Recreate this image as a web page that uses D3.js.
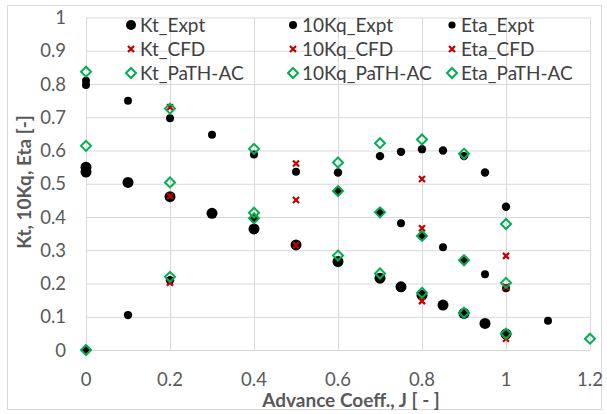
<!DOCTYPE html>
<html>
	<head>
		<meta charset="utf8" />
		<script src="https://cdn.jsdelivr.net/npm/d3@7/dist/d3.min.js"></script>
		<style>
			body { margin: 0; background: #fff; }
			text { font-family: Lato, "Open Sans", sans-serif; }
		</style>
	</head>
	<body>
		<script>
			var w = 607;
			var h = 414;

			// advance coefficient J for each data set
			var jExpt = [0, 0, 0.1, 0.2, 0.3, 0.4, 0.5, 0.6, 0.7, 0.75, 0.8, 0.85, 0.9, 0.95, 1.0];
			var ktExpt = [0.55, 0.535, 0.504, 0.461, 0.411, 0.364, 0.316, 0.266, 0.216, 0.19, 0.165, 0.135, 0.11, 0.08, 0.048];
			var jKqExpt = [0, 0, 0.1, 0.2, 0.3, 0.4, 0.5, 0.6, 0.7, 0.75, 0.8, 0.85, 0.9, 0.95, 1.0, 1.1];
			var kqExpt = [0.81, 0.797, 0.75, 0.697, 0.647, 0.588, 0.536, 0.478, 0.414, 0.381, 0.343, 0.309, 0.271, 0.228, 0.186, 0.088];
			var jEtaExpt = [0, 0.1, 0.2, 0.4, 0.6, 0.7, 0.75, 0.8, 0.85, 0.9, 0.95, 1.0];
			var etaExpt = [0, 0.105, 0.21, 0.396, 0.534, 0.583, 0.596, 0.604, 0.6, 0.583, 0.534, 0.431];

			var jCfd = [0.2, 0.5, 0.8, 1.0];
			var ktCfd = [0.463, 0.316, 0.147, 0.034];
			var kqCfd = [0.73, 0.561, 0.366, 0.19];
			var etaCfd = [0.202, 0.451, 0.514, 0.283];

			var jPath = [0, 0.2, 0.4, 0.6, 0.7, 0.8, 0.9, 1.0];
			var ktPath = [0.614, 0.504, 0.396, 0.284, 0.23, 0.172, 0.112, 0.049];
			var jKqPath = [0, 0.2, 0.4, 0.6, 0.7, 0.8, 0.9, 1.0, 1.2];
			var kqPath = [0.837, 0.726, 0.605, 0.478, 0.414, 0.343, 0.27, 0.202, 0.034];
			var etaPath = [0, 0.22, 0.413, 0.564, 0.622, 0.633, 0.59, 0.379];

			var xTicks = [0, 0.2, 0.4, 0.6, 0.8, 1, 1.2];
			var yTicks = [0, 0.1, 0.2, 0.3, 0.4, 0.5, 0.6, 0.7, 0.8, 0.9, 1];

			var zip = function(xs, ys) {
				return ys.map(function(v, i) { return [xs[i], v]; });
			};

			var series = [
				{name: "Kt_Expt", kind: "dot", r: 5.5, pts: zip(jExpt, ktExpt)},
				{name: "10Kq_Expt", kind: "dot", r: 4, pts: zip(jKqExpt, kqExpt)},
				{name: "Eta_Expt", kind: "dot", r: 4.2, pts: zip(jEtaExpt, etaExpt)},
				{name: "Kt_CFD", kind: "x", pts: zip(jCfd, ktCfd)},
				{name: "10Kq_CFD", kind: "x", pts: zip(jCfd, kqCfd)},
				{name: "Eta_CFD", kind: "x", pts: zip(jCfd, etaCfd)},
				{name: "Kt_PaTH-AC", kind: "diamond", pts: zip(jPath, ktPath)},
				{name: "10Kq_PaTH-AC", kind: "diamond", pts: zip(jKqPath, kqPath)},
				{name: "Eta_PaTH-AC", kind: "diamond", pts: zip(jPath, etaPath)}
			];
			var legendR = [5, 4, 3.6];

			var svg = d3.select("body")
						.append("svg")
						.attr("width", w)
						.attr("height", h);

			svg.append("rect")
			   .attr("x", 7.5).attr("y", 5.5)
			   .attr("width", 594).attr("height", 404)
			   .attr("fill", "#fff")
			   .attr("stroke", "#d9d9d9");

			var x = d3.scaleLinear().domain([0, 1.2]).range([86, 590]);
			var y = d3.scaleLinear().domain([0, 1]).range([350, 17.5]);

			// gridlines
			svg.append("g")
			   .attr("transform", "translate(0,350)")
			   .call(d3.axisBottom(x).tickValues(xTicks).tickSize(-332.5).tickFormat(""))
			   .call(function(g) { g.select(".domain").remove(); })
			   .selectAll("line").attr("stroke", "#d9d9d9");
			svg.append("g")
			   .attr("transform", "translate(86,0)")
			   .call(d3.axisLeft(y).tickValues(yTicks).tickSize(-504).tickFormat(""))
			   .call(function(g) { g.select(".domain").remove(); })
			   .selectAll("line").attr("stroke", "#d9d9d9");

			// tick labels
			svg.append("g")
			   .selectAll("text")
			   .data(xTicks)
			   .enter()
			   .append("text")
			   .attr("x", function(d) { return x(d); })
			   .attr("y", 386)
			   .attr("text-anchor", "middle")
			   .attr("font-size", 18.5)
			   .attr("fill", "#595959")
			   .text(function(d) { return d; });
			svg.append("g")
			   .selectAll("text")
			   .data(yTicks)
			   .enter()
			   .append("text")
			   .attr("x", 66)
			   .attr("y", function(d) { return y(d) + 6.5; })
			   .attr("text-anchor", "end")
			   .attr("font-size", 18.5)
			   .attr("fill", "#595959")
			   .text(function(d) { return d; });

			// axis titles
			svg.append("text")
			   .attr("x", 351).attr("y", 407)
			   .attr("text-anchor", "middle")
			   .attr("font-size", 19)
			   .attr("font-weight", "bold")
			   .attr("fill", "#595959")
			   .text("Advance Coeff., J [ - ]");
			svg.append("text")
			   .attr("transform", "translate(31,182) rotate(-90)")
			   .attr("text-anchor", "middle")
			   .attr("font-size", 19)
			   .attr("font-weight", "bold")
			   .attr("fill", "#595959")
			   .text("Kt, 10Kq, Eta [-]");

			var drawMark = function(sel, s, r) {
				if (s.kind == "dot") {
					sel.append("circle")
					   .attr("r", r)
					   .attr("fill", "#000");
				} else if (s.kind == "x") {
					sel.append("path")
					   .attr("d", "M-3,-3L3,3M3,-3L-3,3")
					   .attr("stroke", "#c00000")
					   .attr("stroke-width", 2.2)
					   .attr("fill", "none");
				} else {
					sel.append("path")
					   .attr("d", "M0,-5L5,0L0,5L-5,0Z")
					   .attr("stroke", "#00b050")
					   .attr("stroke-width", 2)
					   .attr("fill", "none");
				}
			};

			// data marks
			series.forEach(function(s) {
				svg.append("g")
				   .selectAll("g")
				   .data(s.pts)
				   .enter()
				   .append("g")
				   .attr("transform", function(d) { return "translate(" + x(d[0]) + "," + y(d[1]) + ")"; })
				   .each(function() { drawMark(d3.select(this), s, s.r); });
			});

			// legend, 3 columns x 3 rows
			var colX = [131, 293, 452];
			var rowY = [25, 49, 73];
			series.forEach(function(s, i) {
				var g = svg.append("g")
						   .attr("transform", "translate(" + colX[i % 3] + "," + rowY[Math.floor(i / 3)] + ")");
				drawMark(g, s, legendR[i % 3]);
				g.append("text")
				 .attr("x", 9)
				 .attr("y", 6.5)
				 .attr("font-size", 19)
				 .attr("fill", "#404040")
				 .text(s.name);
			});
		</script>
	</body>
</html>
